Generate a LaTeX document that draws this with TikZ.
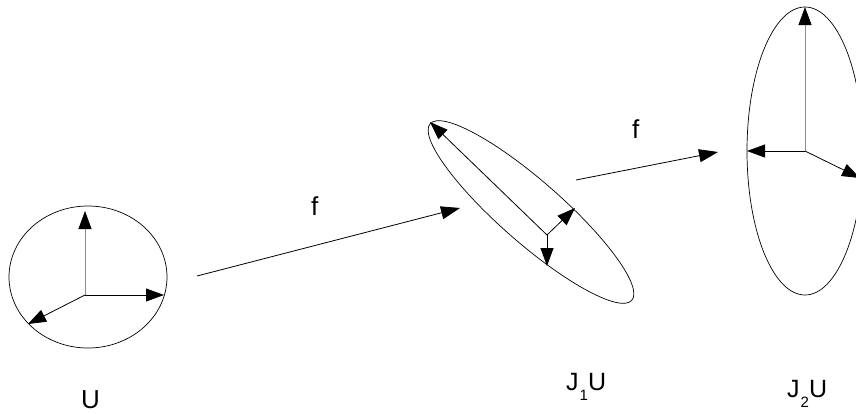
\documentclass[tikz,border=0pt]{standalone}
\usepackage{fontspec}
\setmainfont{Liberation Sans}
\usetikzlibrary{arrows.meta,positioning}

\begin{document}
\begin{tikzpicture}[
  x=1pt, y=-1pt,
  axis/.style={line width=0.8pt, -{Triangle[length=18pt,width=13pt]}},
  upaxis/.style={axis, draw=gray!90, -{Triangle[length=18pt,width=13pt,color=black]}},
  map/.style={line width=0.8pt, -{Triangle[length=19pt,width=13pt]}},
  label/.style={font=\fontsize{26}{26}\selectfont, inner sep=0pt, anchor=base west},
  jlabel/.style={label, font=\fontsize{25}{25}\selectfont}
]
  \useasboundingbox (0,0) rectangle (856,413);
  \clip (0,0) rectangle (856,413);
  % ellipses
  \draw[line width=0.7pt] (88,277) ellipse [x radius=79, y radius=71];
  \draw[line width=0.7pt, rotate around={-41.2:(531,212)}] (531,212) ellipse [x radius=134, y radius=31];
  \draw[line width=0.7pt] (805,151) ellipse [x radius=58, y radius=144];
  % frame U
  \coordinate (o0) at (85,295);
  \coordinate (u0) at (85,211);
  \coordinate (r0) at (164,295);
  \coordinate (d0) at (28,324);
  \draw[upaxis] (o0) -- (u0);
  \draw[axis] (o0) -- (r0);
  \draw[axis] (o0) -- (d0);
  % frame J1U
  \coordinate (o1) at (547,235);
  \coordinate (u1) at (430,122);
  \coordinate (r1) at (575,208);
  \coordinate (d1) at (547,266);
  \draw[axis] (o1) -- (u1);
  \draw[axis] (o1) -- (r1);
  \draw[axis] (o1) -- (d1);
  % frame J2U
  \coordinate (o2) at (805,151);
  \coordinate (u2) at (805,7);
  \coordinate (l2) at (747,151);
  \coordinate (r2) at (860,178);
  \draw[upaxis] (o2) -- (u2);
  \draw[axis] (o2) -- (l2);
  \draw[axis] (o2) -- (r2);
  % maps
  \coordinate (s1) at (197,276);
  \coordinate (t1) at (460,208);
  \coordinate (s2) at (576,180);
  \coordinate (t2) at (718,152);
  \draw[map] (s1) -- (t1);
  \draw[map] (s2) -- (t2);
  \node[label] (f1) at (311,215) {f};
  \node[label] (f2) at (632,138) {f};
  % labels
  \node[label] (U)  at (81,408) {U};
  \node[jlabel] (J1) at (566,390) {J\hspace{1pt}\raisebox{-10pt}{\fontsize{15}{15}\selectfont 1}U};
  \node[jlabel] (J2) at (787,397) {J\hspace{1pt}\raisebox{-10pt}{\fontsize{15}{15}\selectfont 2}U};
\end{tikzpicture}
\end{document}
